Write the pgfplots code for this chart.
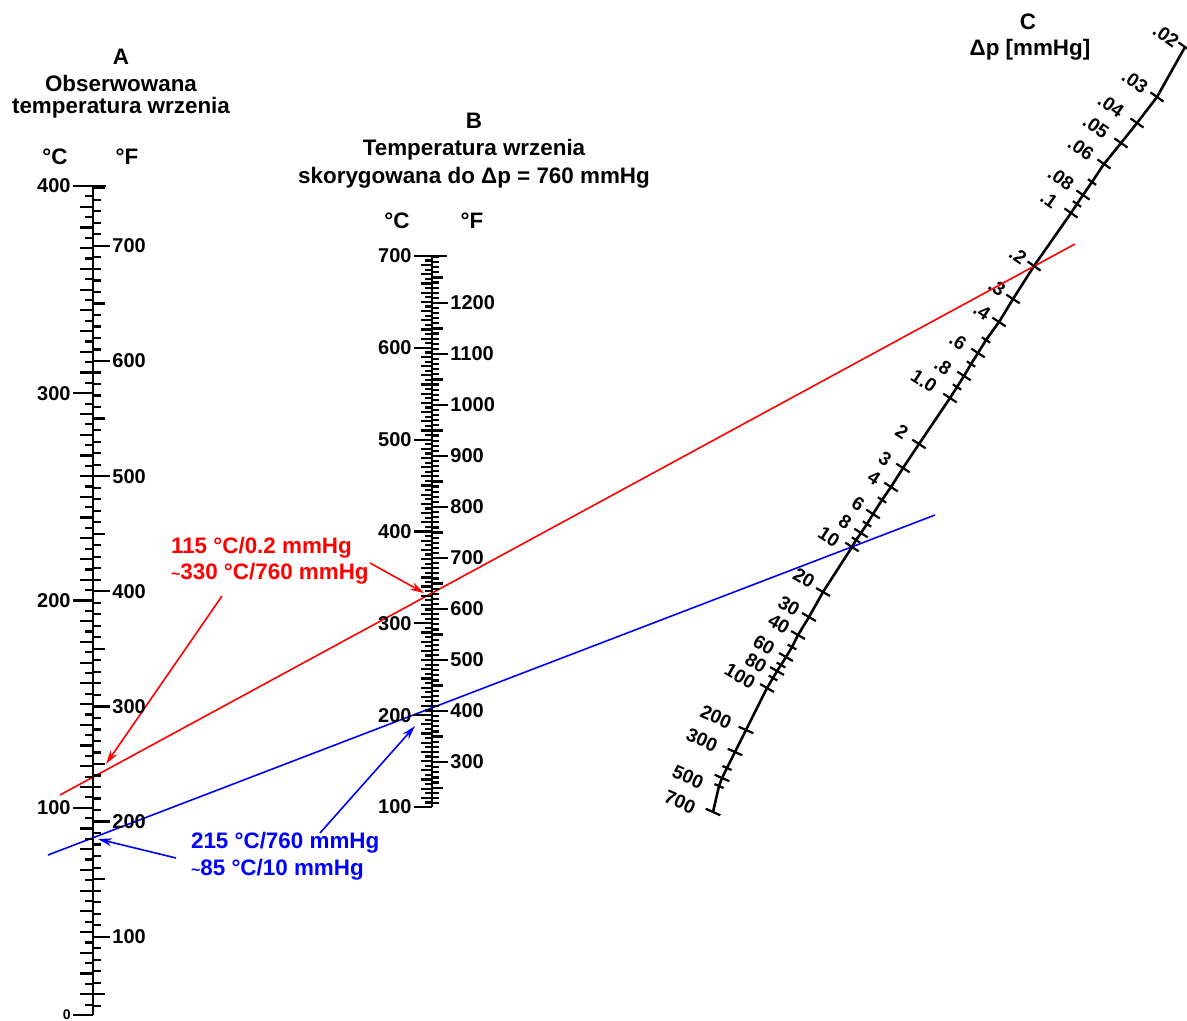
\documentclass[border=0pt]{standalone}
\usepackage{fontspec}
\setmainfont{Liberation Sans}
\usepackage{pgfplots}
\pgfplotsset{compat=1.18}
\usetikzlibrary{arrows.meta}
\pgfplotsset{
 scaleax/.style={scale only axis, width=1pt, xmin=0, xmax=1, xtick=\empty, hide x axis,
   axis line style={draw=none}, tick style={black, line width=1.1pt},
   yticklabel style={font=\bfseries\fontsize{10}{12}\selectfont, inner sep=1pt,
     /pgf/number format/1000 sep={}, /pgf/number format/assume math mode=true},
   clip=false, anchor=south west, tick align=outside, scaled y ticks=false},
 tickax/.style={scaleax, yticklabels={}},
}
\tikzset{clbl/.style={font=\bfseries\fontsize{9.5}{11}\selectfont, inner sep=0pt}}
\newcommand{\ttl}{\bfseries\fontsize{11.2}{13}\selectfont}
\begin{document}
\begin{tikzpicture}
\useasboundingbox (0,0) rectangle (593.5pt,510.5pt);
\begin{axis}[at={(0,0)}, anchor=south west, scale only axis, width=593.5pt, height=510.5pt,
  xmin=0, xmax=1187, ymin=0, ymax=1021, y dir=reverse, hide axis, clip=false]
% scale lines
\addplot[black, line width=1.3pt] coordinates {(93,186) (93,1015)};
\addplot[black, line width=1.2pt] coordinates {(93,186) (106,186)};
\addplot[black, line width=1.3pt] coordinates {(432,256) (432,807)};
\addplot[black, line width=1.2pt] coordinates {(432,256) (447,256)};
% scale C
\addplot[black, line width=1.3pt] coordinates {(1185,47) (1157,97) (1137,123) (1121,143) (1104,164) (1092,182) (1083,195) (1077,204) (1071,213) (1034,266) (1013,299) (999,322) (986,340) (978,353) (971,364) (964,376) (957,387) (950,398) (919,444) (903,468) (891,487) (882,500) (873,514) (867,524) (861,533) (856,540) (852,547) (823,592) (809,617) (798,635) (792,647) (786,657) (781,665) (777,671) (773,678) (767,688) (746,730) (735,752) (727,768) (722,778) (719,786) (713,812)};
% C ticks
\addplot[only marks, mark=-, mark size=4pt, mark options={rotate=-35, line width=1.1pt}] coordinates {(1185,47) (1157,97) (1137,123) (1121,143) (1104,164) (1083,195) (1071,213) (1034,266)};
\addplot[only marks, mark=-, mark size=2.5pt, mark options={rotate=-35, line width=1.1pt}] coordinates {(1092,182) (1077,204)};
\addplot[only marks, mark=-, mark size=4pt, mark options={rotate=-33, line width=1.1pt}] coordinates {(1013,299) (999,322) (978,353) (964,376) (950,398) (919,444) (903,468) (891,487) (873,514) (861,533) (852,547)};
\addplot[only marks, mark=-, mark size=2.5pt, mark options={rotate=-33, line width=1.1pt}] coordinates {(986,340) (971,364) (957,387) (882,500) (867,524) (856,540)};
\addplot[only marks, mark=-, mark size=4pt, mark options={rotate=-30, line width=1.1pt}] coordinates {(823,592) (809,617) (798,635) (786,657) (777,671) (767,688)};
\addplot[only marks, mark=-, mark size=2.5pt, mark options={rotate=-30, line width=1.1pt}] coordinates {(792,647) (781,665) (773,678)};
\addplot[only marks, mark=-, mark size=4pt, mark options={rotate=-24, line width=1.1pt}] coordinates {(746,730) (735,752) (722,778) (713,812)};
\addplot[only marks, mark=-, mark size=2.5pt, mark options={rotate=-24, line width=1.1pt}] coordinates {(727,768) (719,786)};
% C labels
\node[clbl, rotate=-35] at (axis cs:1166,36) {.02};
\node[clbl, rotate=-35] at (axis cs:1135,82) {.03};
\node[clbl, rotate=-35] at (axis cs:1111,106) {.04};
\node[clbl, rotate=-35] at (axis cs:1096,127) {.05};
\node[clbl, rotate=-35] at (axis cs:1081,149) {.06};
\node[clbl, rotate=-35] at (axis cs:1061,179) {.08};
\node[clbl, rotate=-35] at (axis cs:1049,200) {.1};
\node[clbl, rotate=-35] at (axis cs:1018,256) {.2};
\node[clbl, rotate=-33] at (axis cs:997,287) {.3};
\node[clbl, rotate=-33] at (axis cs:982,311) {.4};
\node[clbl, rotate=-33] at (axis cs:958,341) {.6};
\node[clbl, rotate=-33] at (axis cs:943,366) {.8};
\node[clbl, rotate=-33] at (axis cs:924,381) {1.0};
\node[clbl, rotate=-33] at (axis cs:902,432) {2};
\node[clbl, rotate=-33] at (axis cs:885,459) {3};
\node[clbl, rotate=-33] at (axis cs:874,478) {4};
\node[clbl, rotate=-33] at (axis cs:858,504) {6};
\node[clbl, rotate=-33] at (axis cs:845,522) {8};
\node[clbl, rotate=-33] at (axis cs:829,537) {10};
\node[clbl, rotate=-30] at (axis cs:804,578) {20};
\node[clbl, rotate=-30] at (axis cs:789,606) {30};
\node[clbl, rotate=-30] at (axis cs:779,624) {40};
\node[clbl, rotate=-30] at (axis cs:764,645) {60};
\node[clbl, rotate=-30] at (axis cs:756,663) {80};
\node[clbl, rotate=-30] at (axis cs:740,676) {100};
\node[clbl, rotate=-24] at (axis cs:716,717) {200};
\node[clbl, rotate=-24] at (axis cs:702,740) {300};
\node[clbl, rotate=-24] at (axis cs:688,777) {500};
\node[clbl, rotate=-24] at (axis cs:680,802) {700};
% red and blue lines
\addplot[red, line width=0.8pt] coordinates {(60,795) (1075,244)};
\addplot[blue, line width=0.8pt] coordinates {(48,855) (935,515)};
\addplot[red, line width=0.8pt, -{Stealth[length=7pt,width=4pt]}] coordinates {(222,596) (106,764)};
\addplot[red, line width=0.8pt, -{Stealth[length=7pt,width=4pt]}] coordinates {(370,563) (424,593)};
\addplot[blue, line width=0.8pt, -{Stealth[length=7pt,width=4pt]}] coordinates {(176,858) (98,839)};
\addplot[blue, line width=0.8pt, -{Stealth[length=7pt,width=4pt]}] coordinates {(320,833) (415,726)};
% annotations
\node[font=\ttl, red, anchor=west] at (axis cs:164,548) {115 °C/0.2 mmHg};
\node[font=\ttl, red, anchor=west] at (axis cs:164,574) {{\fontsize{8}{8}\selectfont\textasciitilde}330 °C/760 mmHg};
\node[font=\ttl, blue, anchor=west] at (axis cs:184,843) {215 °C/760 mmHg};
\node[font=\ttl, blue, anchor=west] at (axis cs:184,870) {{\fontsize{8}{8}\selectfont\textasciitilde}85 °C/10 mmHg};
% titles
\node[font=\ttl] at (axis cs:121,57) {A};
\node[font=\ttl] at (axis cs:121,83) {Obserwowana};
\node[font=\ttl] at (axis cs:121,108) {temperatura wrzenia};
\node[font=\ttl] at (axis cs:55,157) {°C};
\node[font=\ttl] at (axis cs:127,157) {°F};
\node[font=\ttl] at (axis cs:474,121) {B};
\node[font=\ttl] at (axis cs:474,150) {Temperatura wrzenia};
\node[font=\ttl] at (axis cs:474,178) {skorygowana do Δp = 760 mmHg};
\node[font=\ttl] at (axis cs:397,221) {°C};
\node[font=\ttl] at (axis cs:472,221) {°F};
\node[font=\ttl] at (axis cs:1028,22) {C};
\node[font=\ttl] at (axis cs:1030,50) {Δp [mmHg]};
\end{axis}
% ---------- Scale A, deg C (left) ----------
\begin{axis}[scaleax, at={(46.5pt,3pt)}, height=414.5pt, ymin=0, ymax=400,
  ytick={0,100,...,400}, yticklabels={{\fontsize{7}{7}\selectfont 0},100,200,300,400},
  ytick pos=left, yticklabel pos=left, major tick length=10pt]
\end{axis}
\begin{axis}[tickax, at={(46.5pt,3pt)}, height=414.5pt, ymin=0, ymax=400,
  ytick={10,20,...,390}, ytick pos=left, major tick length=6.5pt]
\end{axis}
\begin{axis}[tickax, at={(46.5pt,3pt)}, height=414.5pt, ymin=0, ymax=400,
  ytick={5,15,...,395}, ytick pos=left, major tick length=4pt]
\end{axis}
% ---------- Scale A, deg F (right) ----------
\begin{axis}[scaleax, at={(45.5pt,3pt)}, height=414.5pt, ymin=32, ymax=752,
  ytick={100,200,...,700}, ytick pos=right, yticklabel pos=right, major tick length=8.5pt]
\end{axis}
\begin{axis}[tickax, at={(45.5pt,3pt)}, height=414.5pt, ymin=32, ymax=752,
  ytick={50,150,...,750}, ytick pos=right, major tick length=6pt]
\end{axis}
\begin{axis}[tickax, at={(45.5pt,3pt)}, height=414.5pt, ymin=32, ymax=752,
  ytick={40,50,...,750}, ytick pos=right, major tick length=4pt]
\end{axis}
% ---------- Scale B, deg C (left) ----------
\begin{axis}[scaleax, at={(216pt,107pt)}, height=275.5pt, ymin=100, ymax=700,
  ytick={100,200,...,700}, ytick pos=left, yticklabel pos=left, major tick length=9pt]
\end{axis}
\begin{axis}[tickax, at={(216pt,107pt)}, height=275.5pt, ymin=100, ymax=700,
  ytick={110,120,...,690}, ytick pos=left, major tick length=5.5pt]
\end{axis}
\begin{axis}[tickax, at={(216pt,107pt)}, height=275.5pt, ymin=100, ymax=700,
  ytick={105,115,...,695}, ytick pos=left, major tick length=3.5pt]
\end{axis}
% ---------- Scale B, deg F (right) ----------
\begin{axis}[scaleax, at={(215pt,107pt)}, height=275.5pt, ymin=212, ymax=1292,
  ytick={300,400,...,1200}, ytick pos=right, yticklabel pos=right, major tick length=8pt]
\end{axis}
\begin{axis}[tickax, at={(215pt,107pt)}, height=275.5pt, ymin=212, ymax=1292,
  ytick={250,350,...,1250}, ytick pos=right, major tick length=5.5pt]
\end{axis}
\begin{axis}[tickax, at={(215pt,107pt)}, height=275.5pt, ymin=212, ymax=1292,
  ytick={220,230,...,1290}, ytick pos=right, major tick length=3.5pt]
\end{axis}
\end{tikzpicture}
\end{document}
